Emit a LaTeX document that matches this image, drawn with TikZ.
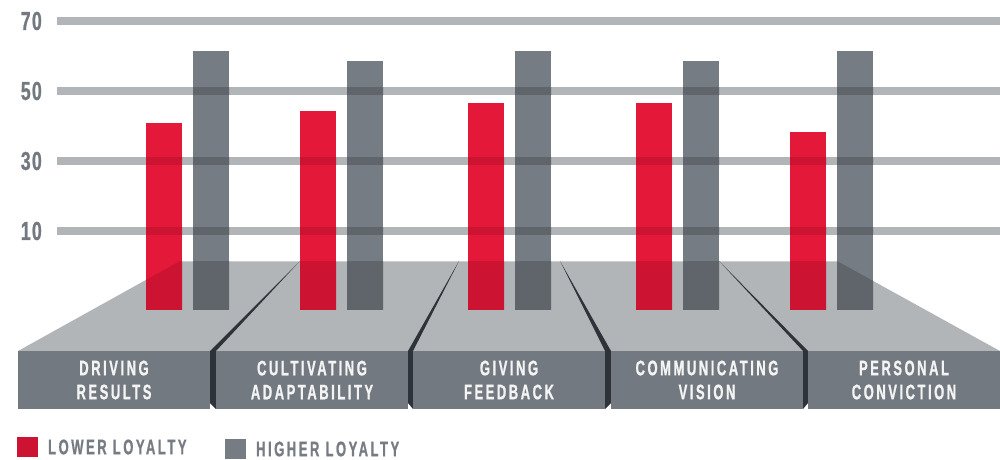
\documentclass[tikz,border=0pt]{standalone}
\usepackage{fontspec}
\usetikzlibrary{positioning}
\newfontfamily\labelfont{Liberation Sans}[FakeStretch=0.62,LetterSpace=12,FakeBold=0.9]
\newfontfamily\axisfont{Liberation Sans}[FakeStretch=0.68,LetterSpace=5,FakeBold=0.9]
\definecolor{gridgray}{HTML}{B1B5B8}
\definecolor{frontgray}{HTML}{737980}
\definecolor{wedgedark}{HTML}{2D3338}
\definecolor{barred}{HTML}{E4193A}
\definecolor{barredD}{HTML}{CC1331}
\definecolor{bargray}{HTML}{767C83}
\definecolor{bargrayD}{HTML}{5F656B}
\definecolor{edgelight}{HTML}{CDD0D2}
\definecolor{labeltext}{HTML}{F4F4F4}

\begin{document}
\begin{tikzpicture}[x=1pt,y=-1pt,
  labelbox/.style={fill=frontgray,text=labeltext,minimum width=192pt,minimum height=58pt,inner sep=0pt,align=center,font=\labelfont\bfseries\fontsize{21}{24}\selectfont},
  axislabel/.style={text=frontgray,inner sep=0pt,anchor=east,font=\axisfont\bfseries\fontsize{26}{26}\selectfont},
  legendbox/.style={minimum size=20.5pt,inner sep=0pt},
  legendtext/.style={text=bargray,inner sep=0pt,font=\labelfont\bfseries\fontsize{21}{21}\selectfont}]
  \useasboundingbox (0,0) rectangle (1000,459);

  \foreach \v in {10,30,50,70}{
    \fill[gridgray] (57,{262-3.5*\v}) rectangle (1000,{270-3.5*\v});
    \node[axislabel] (tick\v) at (42,{266-3.5*\v}) {\v};
  }

  \coordinate (pfl) at (18,351);
  \coordinate (pbl) at (180,261);
  \coordinate (pbr) at (837,261);
  \coordinate (pfr) at (1000,351);
  \fill[gridgray] (pfl) -- (pbl) -- (pbr) -- (pfr) -- cycle;
  \draw[edgelight, line width=1pt] (pbl) -- (pbr);

  \foreach \bk/\fl/\fr/\yl/\yr in {300/210/216/403/409, 459/408/413/403/409, 560/605/611/409/403, 719/803/808/409/403}
    \fill[wedgedark] (\bk,261) -- (\fl,351) -- (\fl,\yl) -- (\fr,\yr) -- (\fr,351) -- cycle;

  \node[labelbox] (drv) at (114,380) {DRIVING\\RESULTS};
  \node[labelbox] (cult) at (312,380) {CULTIVATING\\ADAPTABILITY};
  \node[labelbox] (feed) at (509,380) {GIVING\\FEEDBACK};
  \node[labelbox] (comm) at (707,380) {COMMUNICATING\\VISION};
  \node[labelbox] (conv) at (904,380) {PERSONAL\\CONVICTION};

  \foreach \gx/\rv/\gv in {146/41/61.4, 300/44.3/58.6, 468/46.6/61.4, 636/46.6/58.6, 790/38.3/61.4}{
    \foreach \bx/\bv/\bc in {\gx/\rv/barred, \gx+47/\gv/bargray}{
      \fill[\bc] (\bx,{266-3.5*\bv}) rectangle ({\bx+36},309);
      \begin{scope}
        \clip (\bx,{266-3.5*\bv}) rectangle ({\bx+36},309);
        \fill[fill=\bc D] (pfl) -- (pbl) -- (pbr) -- (pfr) -- cycle;
        \foreach \v in {10,30,50,70}
          \fill[fill=\bc D] (57,{262-3.5*\v}) rectangle (1000,{270-3.5*\v});
      \end{scope}
    }
  }

  \node[legendbox, fill=barredD] (lowbox) at (27.5,447) {};
  \node[legendtext, right=10pt of lowbox] (lowtxt) {LOWER LOYALTY};
  \node[legendbox, fill=bargray] (highbox) at (235.5,449) {};
  \node[legendtext, right=10pt of highbox] (hightxt) {HIGHER LOYALTY};
\end{tikzpicture}
\end{document}
